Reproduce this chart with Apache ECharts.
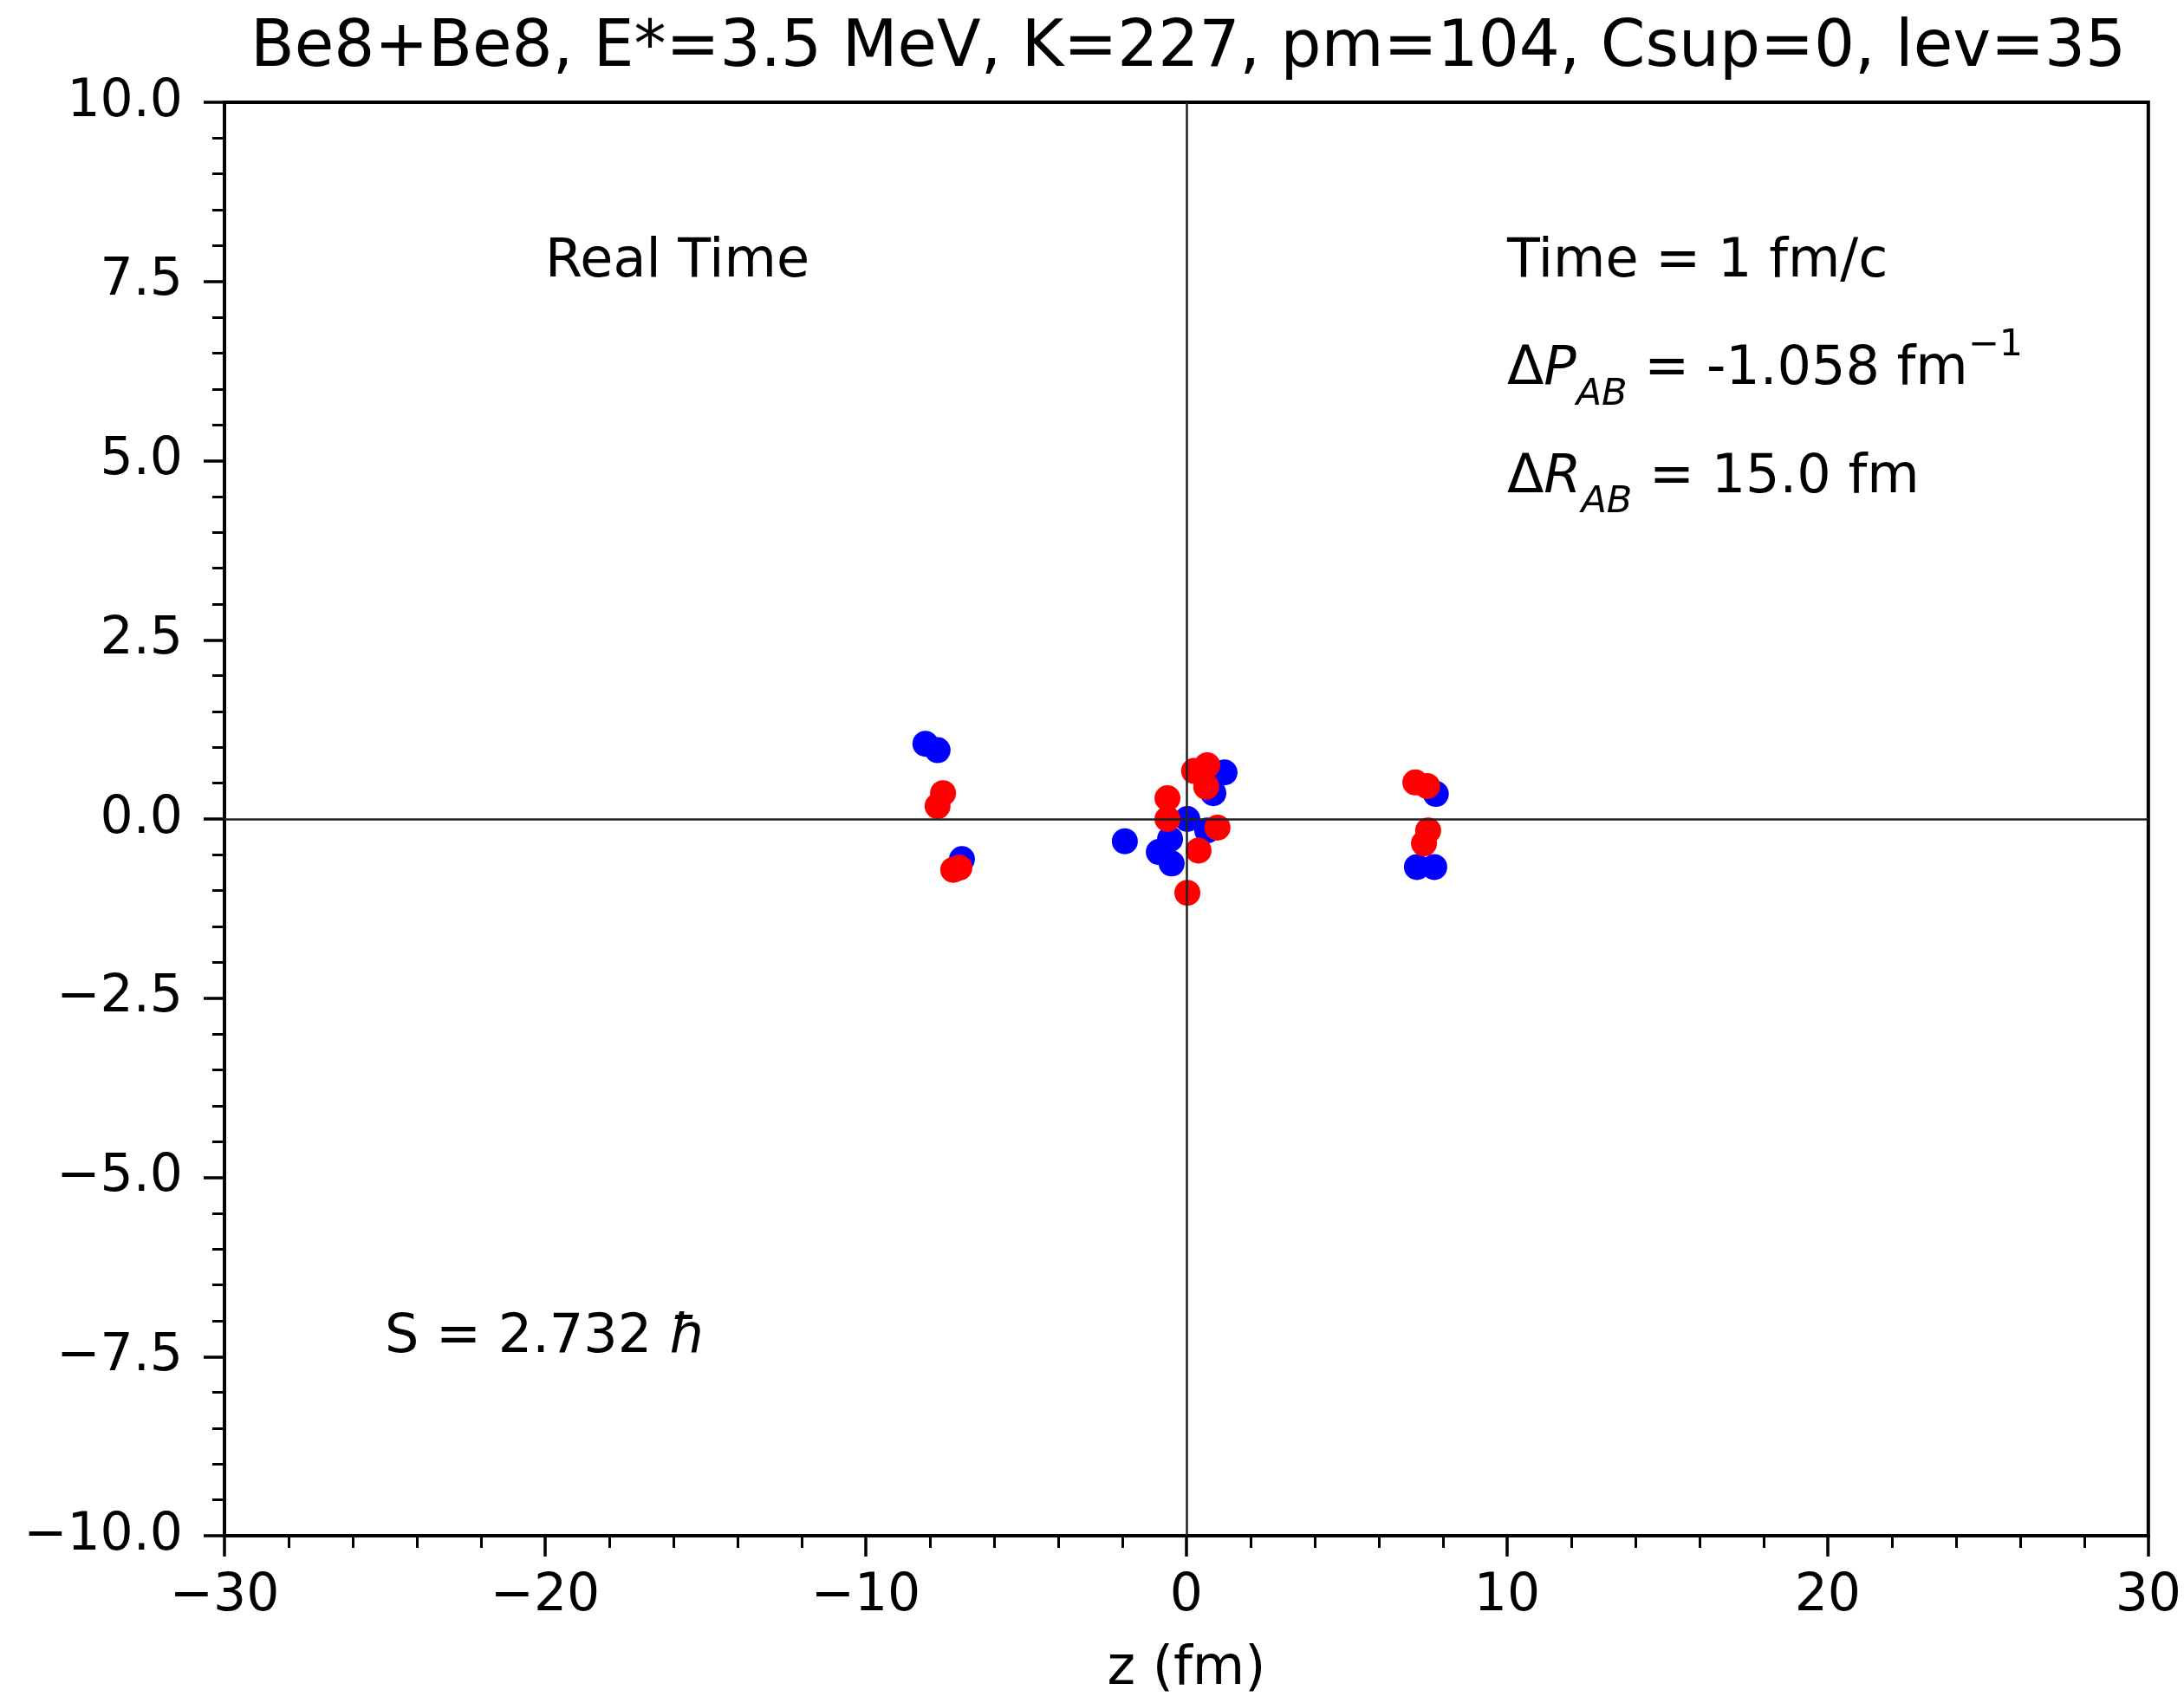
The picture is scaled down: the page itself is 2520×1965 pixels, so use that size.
<!DOCTYPE html>
<html><head><meta charset="utf-8">
<script src="https://cdn.jsdelivr.net/npm/echarts@6/dist/echarts.min.js"></script>
<style>html,body{margin:0;padding:0;background:#fff}#c{width:2520px;height:1965px}</style>
</head><body><div id="c"></div>
<script>
const titleText = 'Be8+Be8, E*=3.5 MeV, K=227, pm=104, Csup=0, lev=35';
const xAxisName = 'z (fm)';
const xTicks = [-30, -20, -10, 0, 10, 20, 30];
const yTicks = [-10, -7.5, -5, -2.5, 0, 2.5, 5, 7.5, 10];

// [z, y]
const bluePoints = [
  [-8.14, 1.05], [-7.76, 0.96], [-7.00, -0.56],
  [1.19, 0.65], [0.84, 0.36], [0.03, 0.00], [0.65, -0.16],
  [-1.92, -0.31], [-0.86, -0.46], [-0.51, -0.28], [-0.46, -0.62],
  [7.78, 0.35], [7.19, -0.67], [7.73, -0.67]
];
const redPoints = [
  [-7.59, 0.36], [-7.76, 0.18], [-7.27, -0.71], [-7.08, -0.68],
  [0.24, 0.67], [0.65, 0.75], [0.62, 0.45], [-0.59, 0.29], [-0.59, 0.00],
  [0.97, -0.12], [0.38, -0.44], [0.03, -1.03],
  [7.14, 0.51], [7.51, 0.46], [7.54, -0.16], [7.41, -0.34]
];

// annotation anchors (data coords, text baseline-left) and rich text
const annotationPos = [[-20, 7.5], [10, 7.5], [10, 6.0], [10, 4.5], [-25, -7.5]];
const annotationText = [
  '{m|Real Time}',
  '{m|Time = 1 fm/c}',
  '{m|Δ}{i|P}{sb|AB}{m| = -1.058 fm}{sp|−1}',
  '{m|Δ}{i|R}{sb|AB}{m| = 15.0 fm}',
  '{m|S = 2.732 }{i|ħ}'
];

const FONT = 'DejaVu Sans';
const TXT = 62;
const fmtMinus = s => String(s).replace('-', '−');

const chart = echarts.init(document.getElementById('c'), null, {renderer: 'canvas'});
const gridL = 259, gridR = 41, gridT = 118, gridB = 193;

const option = {
  backgroundColor: '#fff',
  animation: false,
  title: {
    text: titleText,
    left: gridL + (2520 - gridL - gridR) / 2 - 3,
    textAlign: 'center',
    top: 15,
    textStyle: {fontFamily: FONT, fontSize: 74, fontWeight: 'normal', color: '#000'}
  },
  grid: {left: gridL, right: gridR, top: gridT, bottom: gridB, show: true,
         borderColor: '#000', borderWidth: 4, backgroundColor: 'transparent'},
  xAxis: {
    type: 'value', min: xTicks[0], max: xTicks[xTicks.length - 1], interval: xTicks[1] - xTicks[0],
    name: xAxisName, nameLocation: 'middle', nameGap: 124,
    nameTextStyle: {fontFamily: FONT, fontSize: TXT, color: '#000'},
    axisLine: {show: true, onZero: false, lineStyle: {color: '#000', width: 4}},
    axisTick: {show: true, inside: false, length: 24, lineStyle: {color: '#000', width: 3.5}},
    minorTick: {show: true, splitNumber: 5, length: 14, lineStyle: {color: '#000', width: 3}},
    splitLine: {show: false},
    axisLabel: {fontFamily: FONT, fontSize: 60, color: '#000', margin: 40, formatter: v => fmtMinus(v)}
  },
  yAxis: {
    type: 'value', min: yTicks[0], max: yTicks[yTicks.length - 1], interval: yTicks[1] - yTicks[0],
    axisLine: {show: true, onZero: false, lineStyle: {color: '#000', width: 4}},
    axisTick: {show: true, inside: false, length: 24, lineStyle: {color: '#000', width: 3.5}},
    minorTick: {show: true, splitNumber: 5, length: 14, lineStyle: {color: '#000', width: 3}},
    splitLine: {show: false},
    axisLabel: {fontFamily: FONT, fontSize: 60, color: '#000', margin: 48, formatter: v => fmtMinus(v.toFixed(1))}
  },
  series: [
    {
      type: 'scatter', name: 'blue', data: bluePoints, symbolSize: 30,
      itemStyle: {color: '#0000ff', opacity: 1}, z: 3,
      markLine: {
        silent: true, symbol: ['none', 'none'], label: {show: false},
        lineStyle: {color: '#222', width: 2.5, type: 'solid'},
        data: [{xAxis: 0}, {yAxis: 0}]
      }
    },
    {
      type: 'scatter', name: 'red', data: redPoints, symbolSize: 30,
      itemStyle: {color: '#ff0000', opacity: 1}, z: 4
    }
  ]
};
chart.setOption(option);

const L = 100;
const rich = {
  m:  {fontFamily: FONT, fontSize: TXT, lineHeight: L, fill: '#000'},
  i:  {fontFamily: FONT, fontSize: TXT, fontStyle: 'italic', lineHeight: L, fill: '#000'},
  sb: {fontFamily: FONT, fontSize: 43, fontStyle: 'italic', lineHeight: 54, verticalAlign: 'bottom', fill: '#000'},
  sp: {fontFamily: FONT, fontSize: 43, lineHeight: 66, verticalAlign: 'top', fill: '#000'}
};
const baselineOffset = L / 2 + 0.346 * TXT;
const graphics = annotationPos.map((p, k) => {
  const px = chart.convertToPixel({gridIndex: 0}, p);
  return {
    type: 'text', silent: true, z: 10,
    style: {x: px[0], y: px[1] - baselineOffset, text: annotationText[k], rich: rich,
            align: 'left', verticalAlign: 'top', fill: '#000', fontFamily: FONT, fontSize: TXT}
  };
});
chart.setOption({graphic: graphics});
</script></body></html>
